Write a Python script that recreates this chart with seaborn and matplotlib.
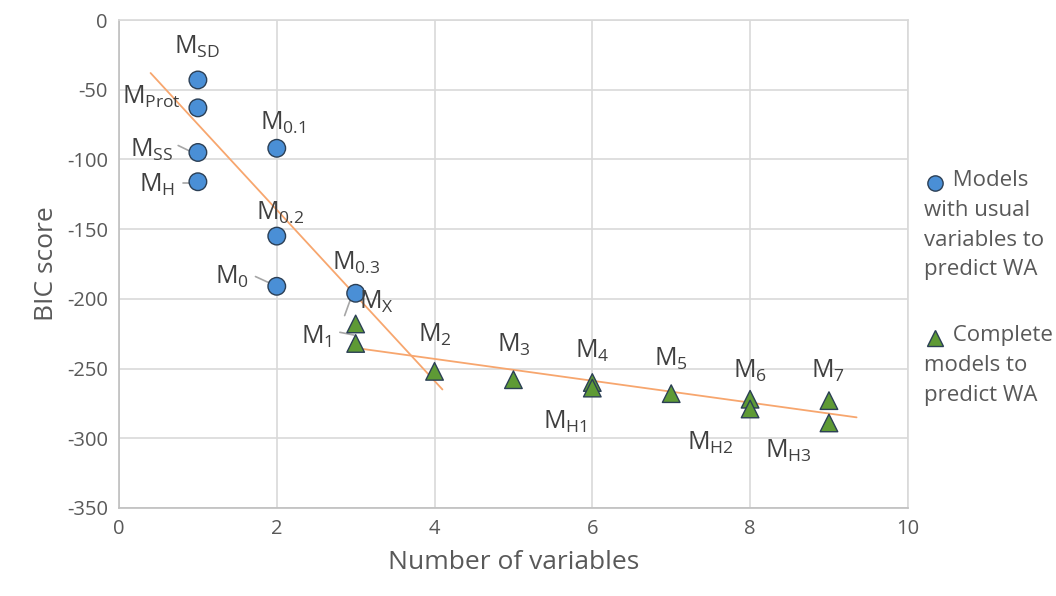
import numpy as np
import pandas as pd
import seaborn as sns
import matplotlib.pyplot as plt
from matplotlib.lines import Line2D

# datos
usual_x = [1, 1, 1, 1, 2, 2, 2, 3]
usual_y = [-43, -63, -95, -116, -92, -155, -191, -196]
usual_lab = ['SD', 'Prot', 'SS', 'H', '0.1', '0.2', '0', '0.3']

comp_x = [3, 3, 4, 5, 6, 6, 7, 8, 8, 9, 9]
comp_y = [-218, -232, -252, -258, -260, -264, -268, -272, -279, -273, -289]
comp_lab = ['X', '1', '2', '3', '4', 'H1', '5', '6', 'H2', '7', 'H3']

# posiciones de las etiquetas (en unidades de datos)
lab_pos = {
    'SD': (0.99, -19), 'Prot': (0.41, -55), 'SS': (0.41, -93), 'H': (0.48, -118),
    '0.1': (2.08, -74), '0.2': (2.04, -138), '0': (1.43, -184), '0.3': (3.0, -174),
    'X': (3.26, -202), '1': (2.5, -227), '2': (4.0, -226), '3': (5.0, -233),
    '4': (6.0, -237), 'H1': (5.65, -288), '5': (7.0, -243), '6': (8.0, -252),
    'H2': (7.5, -303), '7': (8.99, -252), 'H3': (8.49, -309),
}

# lineas de tendencia (extremos leidos)
trend1_x = [0.4, 4.1]
trend1_y = [-38, -265]
trend2_x = [2.97, 9.35]
trend2_y = [-235, -285]

sns.set_style('white')
plt.rcParams['font.family'] = ['Open Sans', 'DejaVu Sans']
plt.rcParams['mathtext.fontset'] = 'custom'
plt.rcParams['mathtext.rm'] = 'Open Sans'
plt.rcParams['mathtext.it'] = 'Open Sans'
plt.rcParams['axes.unicode_minus'] = False

azul = '#4a8fd6'
verde = '#5e9a35'
borde = '#2b3f55'
naranja = '#f7a66e'
gris = '#595959'

df = pd.DataFrame({
    'x': usual_x + comp_x,
    'y': usual_y + comp_y,
    'grupo': ['usual'] * len(usual_x) + ['complete'] * len(comp_x),
})

fig = plt.figure(figsize=(10.56, 5.96), dpi=100)
ax = fig.add_axes([0.1127, 0.1477, 0.747, 0.8187])

ax.plot(trend1_x, trend1_y, color=naranja, lw=1.3, zorder=1)
ax.plot(trend2_x, trend2_y, color=naranja, lw=1.3, zorder=1)

sns.scatterplot(data=df, x='x', y='y', hue='grupo', style='grupo',
                palette={'usual': azul, 'complete': verde},
                markers={'usual': 'o', 'complete': '^'},
                s=160, edgecolor=borde, linewidth=1.0, legend=False,
                ax=ax, zorder=3)

ax.set_xlim(0, 10)
ax.set_ylim(-350, 0)
ax.set_xticks(range(0, 11, 2))
ax.set_yticks(range(-350, 1, 50))
ax.grid(True, color='#d9d9d9', lw=1.2)
ax.set_axisbelow(True)
for s in ax.spines.values():
    s.set_color('#d9d9d9')
    s.set_linewidth(1.2)
ax.spines['left'].set_color('#bfbfbf')
ax.spines['bottom'].set_color('#bfbfbf')
ax.tick_params(labelsize=14.5, colors=gris, length=0, pad=8)
ax.set_xlabel('Number of variables', fontsize=19, color=gris, labelpad=8)
ax.set_ylabel('BIC score', fontsize=19, color=gris, labelpad=6)

# etiquetas de modelos
for lab in usual_lab + comp_lab:
    tx, ty = lab_pos[lab]
    ax.text(tx, ty, r'M$_{\mathrm{' + lab + '}}$', fontsize=18, color='#404040',
            ha='center', va='center', zorder=4)

# lineas guia
guia = dict(color='#a6a6a6', lw=1.2, zorder=2)
ax.plot([0.75, 0.97], [-90, -96], **guia)
ax.plot([0.81, 1.0], [-117, -117], **guia)
ax.plot([1.73, 2.0], [-184, -191], **guia)
ax.plot([3.08, 2.93, 2.86], [-201, -201, -212], **guia)
ax.plot([2.8, 2.98], [-224, -226], **guia)

# leyenda manual
fig.add_artist(Line2D([935 / 1056], [1 - 183 / 596], marker='o', markersize=11,
                      markerfacecolor=azul, markeredgecolor=borde, markeredgewidth=1.0,
                      transform=fig.transFigure))
fig.add_artist(Line2D([935 / 1056], [1 - 338 / 596], marker='^', markersize=11,
                      markerfacecolor=verde, markeredgecolor=borde, markeredgewidth=1.0,
                      transform=fig.transFigure))
fig.text(924 / 1056, 1 - 170 / 596, '     Models\nwith usual\nvariables to\npredict WA',
         fontsize=16, color=gris, va='top', ha='left', linespacing=1.55)
fig.text(924 / 1056, 1 - 325 / 596, '     Complete\nmodels to\npredict WA',
         fontsize=16, color=gris, va='top', ha='left', linespacing=1.55)

plt.savefig('out.png', dpi=100)
